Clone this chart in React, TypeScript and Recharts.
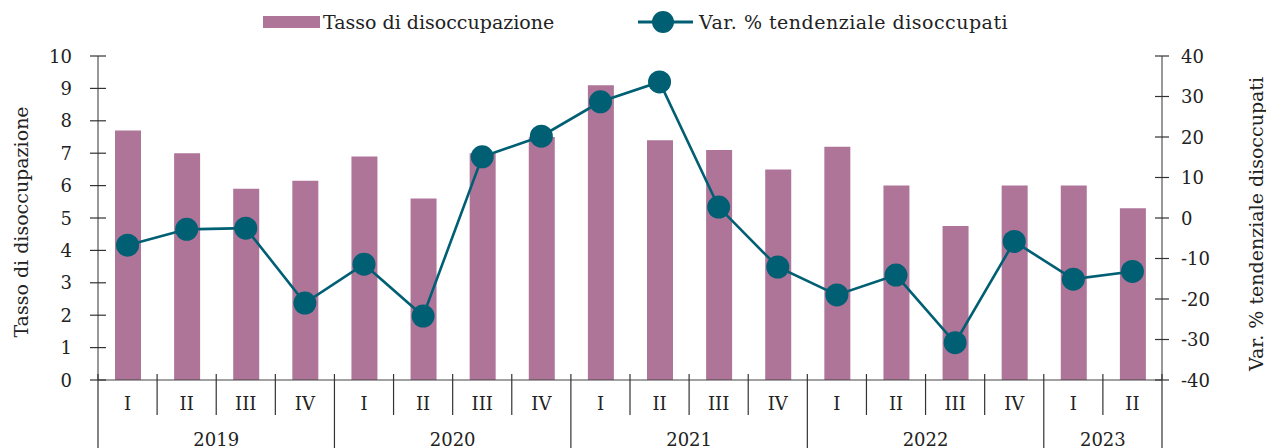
import { Bar, ComposedChart, Line, XAxis, YAxis } from 'recharts';

const quarters = ['I', 'II', 'III', 'IV', 'I', 'II', 'III', 'IV', 'I', 'II', 'III', 'IV', 'I', 'II', 'III', 'IV', 'I', 'II'];
const years = ['2019', '2019', '2019', '2019', '2020', '2020', '2020', '2020', '2021', '2021', '2021', '2021', '2022', '2022', '2022', '2022', '2023', '2023'];
const unemploymentRate = [7.7, 7.0, 5.9, 6.15, 6.9, 5.6, 7.0, 7.5, 9.1, 7.4, 7.1, 6.5, 7.2, 6.0, 4.75, 6.0, 6.0, 5.3];
const unemployedYoY = [-6.7, -2.8, -2.5, -21.0, -11.4, -24.2, 15.1, 20.2, 28.7, 33.6, 2.7, -12.1, -19.0, -14.1, -30.8, -5.8, -15.1, -13.2];
const leftTicks = [0, 1, 2, 3, 4, 5, 6, 7, 8, 9, 10];
const rightTicks = [-40, -30, -20, -10, 0, 10, 20, 30, 40];

const W = 1266;
const H = 448;
const LEFT_W = 98;
const RIGHT_W = 104;
const TOP = 56;
const X_AXIS_H = 68;
const AXIS_Y = H - X_AXIS_H;
const BAND = (W - LEFT_W - RIGHT_W) / quarters.length;

const FONT = 'DejaVu Serif, serif';
const BAR_COLOR = '#ae7599';
const LINE_COLOR = '#005f73';
const TEXT = '#222';

const data = quarters.map((q, i) => ({
  key: `${years[i]}-${q}`,
  rate: unemploymentRate[i],
  yoy: unemployedYoY[i],
}));

function QuarterTick({ x, index }: any) {
  const left = x - BAND / 2;
  const yearStart = index === 0 || years[index] !== years[index - 1];
  const isLast = index === quarters.length - 1;
  const count = years.filter((y) => y === years[index]).length;
  return (
    <g>
      <line x1={left} x2={left} y1={AXIS_Y - 6} y2={yearStart ? H : 415} stroke="#333" strokeWidth={1.2} />
      {isLast && <line x1={left + BAND} x2={left + BAND} y1={AXIS_Y - 6} y2={H} stroke="#333" strokeWidth={1.2} />}
      <text x={x} y={403} textAnchor="middle" dominantBaseline="central" fontFamily={FONT} fontSize={18} fill={TEXT}>
        {quarters[index]}
      </text>
      {yearStart && (
        <text x={left + (count * BAND) / 2} y={439} textAnchor="middle" dominantBaseline="central" fontFamily={FONT} fontSize={18} fill={TEXT}>
          {years[index]}
        </text>
      )}
    </g>
  );
}

function LeftTick({ y, payload }: any) {
  return (
    <g>
      <line x1={LEFT_W - 8} x2={LEFT_W + 8} y1={y} y2={y} stroke="#333" strokeWidth={1.2} />
      <text x={72} y={y} textAnchor="end" dominantBaseline="central" fontFamily={FONT} fontSize={18} fill={TEXT}>
        {payload.value}
      </text>
    </g>
  );
}

function RightTick({ y, payload }: any) {
  const ax = W - RIGHT_W;
  return (
    <g>
      <line x1={ax - 7} x2={ax + 7} y1={y} y2={y} stroke="#333" strokeWidth={1.2} />
      <text x={ax + 19} y={y} textAnchor="start" dominantBaseline="central" fontFamily={FONT} fontSize={18} fill={TEXT}>
        {payload.value}
      </text>
    </g>
  );
}

function AxisTitle({ cx, cy, text }: { cx: number; cy: number; text: string }) {
  return (
    <text transform={`translate(${cx},${cy}) rotate(-90)`} textAnchor="middle" dominantBaseline="central" fontFamily={FONT} fontSize={19} fill={TEXT}>
      {text}
    </text>
  );
}

function LegendOverlay() {
  return (
    <svg width={W} height={44} style={{ position: 'absolute', left: 0, top: 0 }}>
      <rect x={263} y={16} width={57} height={12} fill={BAR_COLOR} />
      <text x={323} y={22} dominantBaseline="central" fontFamily={FONT} fontSize={19} fill={TEXT}>
        Tasso di disoccupazione
      </text>
      <line x1={638} x2={693} y1={22} y2={22} stroke={LINE_COLOR} strokeWidth={3} />
      <circle cx={663} cy={22} r={11} fill={LINE_COLOR} />
      <text x={699} y={22} dominantBaseline="central" fontFamily={FONT} fontSize={19} letterSpacing={0.5} fill={TEXT}>
        Var. % tendenziale disoccupati
      </text>
    </svg>
  );
}

export default function App() {
  return (
    <div style={{ position: 'absolute', left: 0, top: 0, width: W, height: H, background: '#fff' }}>
      <ComposedChart width={W} height={H} data={data} margin={{ top: TOP, right: 0, bottom: 0, left: 0 }}>
        <XAxis
          dataKey="key"
          height={X_AXIS_H}
          interval={0}
          tickLine={false}
          axisLine={{ stroke: '#444', strokeWidth: 1.2 }}
          tick={<QuarterTick />}
        />
        <YAxis
          yAxisId="left"
          width={LEFT_W}
          domain={[0, 10]}
          ticks={leftTicks}
          interval={0}
          tickLine={false}
          axisLine={{ stroke: '#777', strokeWidth: 1.5 }}
          tick={<LeftTick />}
          label={<AxisTitle cx={21} cy={222} text="Tasso di disoccupazione" />}
        />
        <YAxis
          yAxisId="right"
          orientation="right"
          width={RIGHT_W}
          domain={[-40, 40]}
          ticks={rightTicks}
          interval={0}
          tickLine={false}
          axisLine={{ stroke: '#777', strokeWidth: 1.5 }}
          tick={<RightTick />}
          label={<AxisTitle cx={1256} cy={224} text="Var. % tendenziale disoccupati" />}
        />
        <Bar yAxisId="left" dataKey="rate" fill={BAR_COLOR} barSize={26} isAnimationActive={false} />
        <Line
          yAxisId="right"
          dataKey="yoy"
          type="linear"
          stroke={LINE_COLOR}
          strokeWidth={2.6}
          dot={{ r: 11.5, fill: LINE_COLOR, stroke: 'none' }}
          activeDot={false}
          isAnimationActive={false}
        />
      </ComposedChart>
      <LegendOverlay />
    </div>
  );
}
